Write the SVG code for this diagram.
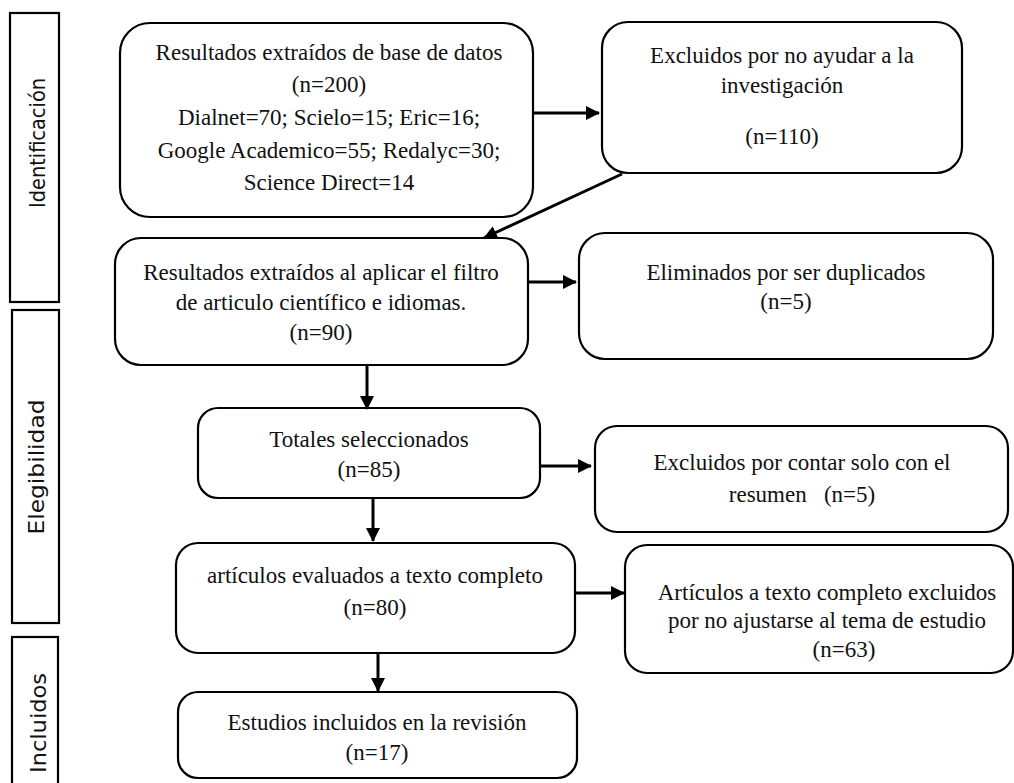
<svg xmlns="http://www.w3.org/2000/svg" width="1014" height="783" viewBox="0 0 1014 783">
<style>
.box{fill:#fff;stroke:#000;stroke-width:2.2}
.lab{fill:#fff;stroke:#000;stroke-width:2.2}
.t{font-family:'Liberation Serif','Tinos','Times New Roman',Times,'DejaVu Serif',serif;font-size:23px;fill:#111;text-anchor:middle}
.s{font-family:'DejaVu Sans','Liberation Sans',sans-serif;font-size:22px;fill:#111;text-anchor:middle}
.c{stroke:#000;stroke-width:3;fill:none}
</style>
<defs>
<marker id="ah" markerUnits="userSpaceOnUse" markerWidth="14" markerHeight="14" viewBox="0 0 14 14" refX="13" refY="7" orient="auto">
<path d="M0,0 L14,7 L0,14 Z" fill="#000"/>
</marker>
</defs>
<rect width="1014" height="783" fill="#fff"/>
<g id="label-identificacion">
<rect class="lab" x="10" y="13" width="49" height="289"/>
<text class="s" transform="translate(45,143) rotate(-90)" textLength="130" lengthAdjust="spacingAndGlyphs">Identificación</text>
</g>
<g id="label-elegibilidad">
<rect class="lab" x="12" y="310" width="47" height="313"/>
<text class="s" transform="translate(44,467) rotate(-90)" textLength="135" lengthAdjust="spacingAndGlyphs">Elegibilidad</text>
</g>
<g id="label-incluidos">
<rect class="lab" x="12" y="637" width="46" height="160"/>
<text class="s" transform="translate(46,723) rotate(-90)" textLength="100" lengthAdjust="spacingAndGlyphs">Incluidos</text>
</g>
<g id="n1">
<rect class="box" x="120" y="23" width="413" height="194" rx="30"/>
<text class="t" x="329" y="60" font-family="Liberation Serif, serif">Resultados extraídos de base de datos</text>
<text class="t" x="329" y="92">(n=200)</text>
<text class="t" x="329" y="125">Dialnet=70; Scielo=15; Eric=16;</text>
<text class="t" x="329" y="158">Google Academico=55; Redalyc=30;</text>
<text class="t" x="329" y="190">Science Direct=14</text>
</g>
<g id="n2">
<rect class="box" x="602" y="22" width="360" height="151" rx="26"/>
<text class="t" x="782" y="63">Excluidos por no ayudar a la</text>
<text class="t" x="782" y="93">investigación</text>
<text class="t" x="782" y="144">(n=110)</text>
</g>
<g id="n3">
<rect class="box" x="115" y="238" width="413" height="127" rx="26"/>
<text class="t" x="321" y="280">Resultados extraídos al aplicar el filtro</text>
<text class="t" x="321" y="310">de articulo científico e idiomas.</text>
<text class="t" x="321" y="340">(n=90)</text>
</g>
<g id="n4">
<rect class="box" x="579" y="233" width="414" height="126" rx="26"/>
<text class="t" x="786" y="280">Eliminados por ser duplicados</text>
<text class="t" x="786" y="309">(n=5)</text>
</g>
<g id="n5">
<rect class="box" x="198" y="408" width="342" height="90" rx="20"/>
<text class="t" x="369" y="447">Totales seleccionados</text>
<text class="t" x="369" y="477">(n=85)</text>
</g>
<g id="n6">
<rect class="box" x="595" y="426" width="413" height="106" rx="22"/>
<text class="t" x="802" y="470">Excluidos por contar solo con el</text>
<text class="t" x="802" y="502" xml:space="preserve">resumen   (n=5)</text>
</g>
<g id="n7">
<rect class="box" x="176" y="543" width="399" height="110" rx="22"/>
<text class="t" x="375" y="583">artículos evaluados a texto completo</text>
<text class="t" x="375" y="615">(n=80)</text>
</g>
<g id="n8">
<rect class="box" x="625" y="545" width="388" height="128" rx="22"/>
<text class="t" x="827" y="600">Artículos a texto completo excluidos</text>
<text class="t" x="827" y="628">por no ajustarse al tema de estudio</text>
<text class="t" x="844" y="657">(n=63)</text>
</g>
<g id="n9">
<rect class="box" x="178" y="692" width="399" height="86" rx="20"/>
<text class="t" x="377" y="730">Estudios incluidos en la revisión</text>
<text class="t" x="377" y="760">(n=17)</text>
</g>
<g id="connectors">
<line class="c" x1="533" y1="113" x2="599" y2="113" marker-end="url(#ah)"/>
<line class="c" x1="622" y1="174" x2="484" y2="238" marker-end="url(#ah)"/>
<line class="c" x1="528" y1="282" x2="576" y2="282" marker-end="url(#ah)"/>
<line class="c" x1="367" y1="365" x2="367" y2="409" marker-end="url(#ah)"/>
<line class="c" x1="541" y1="466" x2="591" y2="466" marker-end="url(#ah)"/>
<line class="c" x1="373" y1="498" x2="373" y2="541" marker-end="url(#ah)"/>
<line class="c" x1="575" y1="593" x2="624" y2="593" marker-end="url(#ah)"/>
<line class="c" x1="378" y1="653" x2="378" y2="691" marker-end="url(#ah)"/>
</g>
</svg>
